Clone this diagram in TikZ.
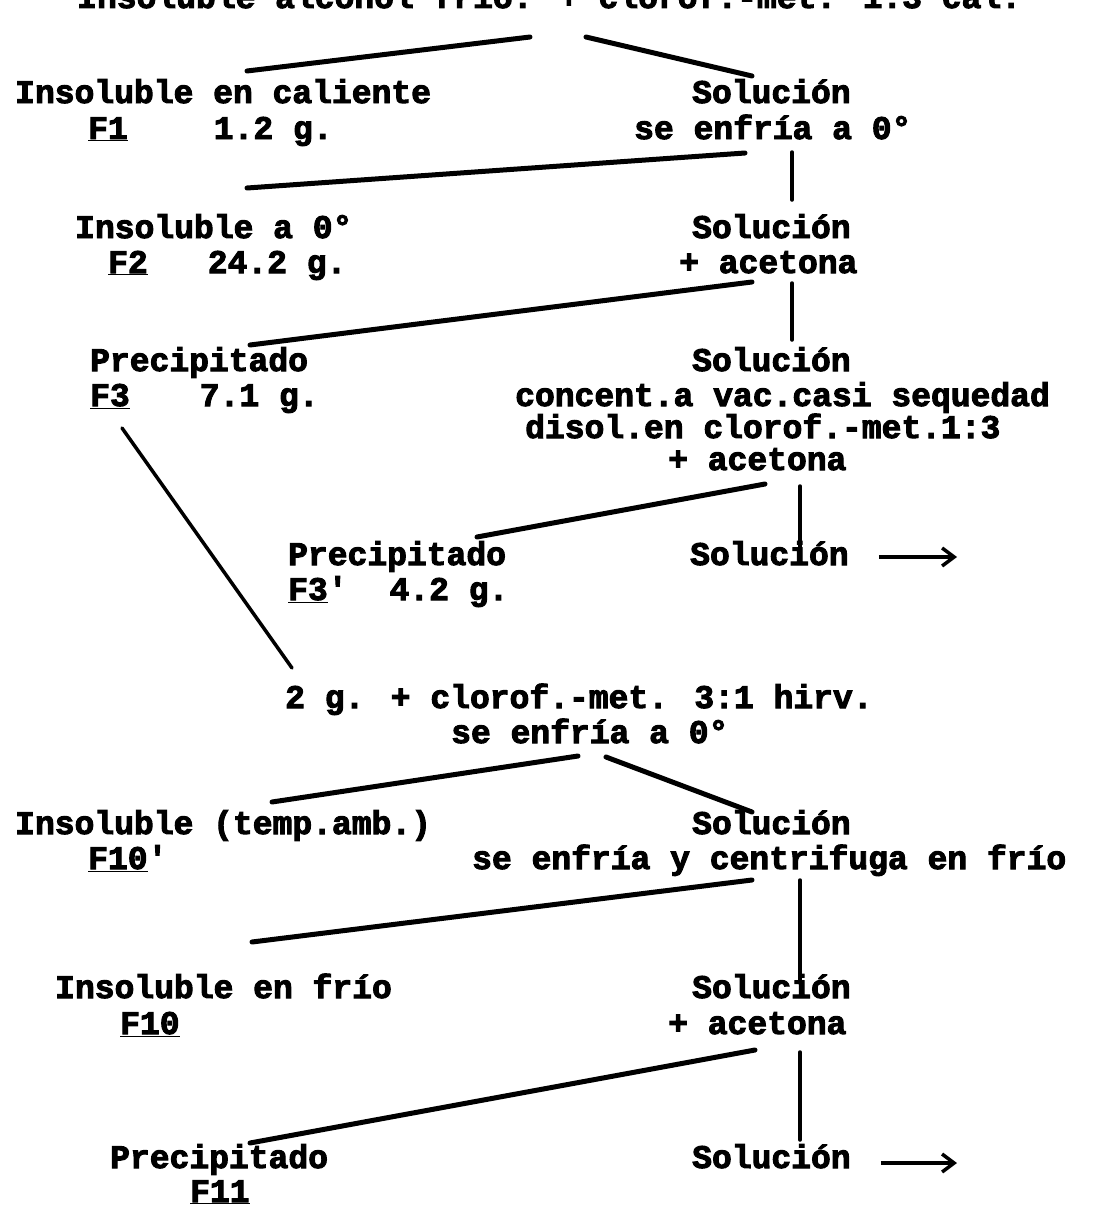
\documentclass[tikz,border=0pt]{standalone}
\usepackage{fontspec}
\newfontfamily\tw{Liberation Mono}[BoldFeatures={FakeBold=3}]
\usetikzlibrary{calc,arrows.meta}
\begin{document}
\begin{tikzpicture}[x=1pt,y=-1pt,
  t/.style={font=\tw\bfseries\fontsize{33}{36}\selectfont, inner sep=0pt, anchor=base west},
  ln/.style={line width=5pt, line cap=round},
  vl/.style={line width=3.5pt, line cap=round},
  arr/.style={line width=3.5pt, -{Straight Barb[length=12pt,width=18pt,line width=3.5pt]}}]
\useasboundingbox (0,0) rectangle (1096,1218);
\fill[white] (0,0) rectangle (1096,1218);
\clip (0,0) rectangle (1096,1218);
% texts
\node[t] (top) at (77,8) {Insoluble alcohol frío. + clorof.-met. 1:3 cal.};
\node[t] (b1) at (15,103) {Insoluble en caliente};
\node[t] (b1f) at (88,139) {\underline{F1}\hspace{86pt}1.2 g.};
\node[t] (b2) at (692,103) {Solución};
\node[t] (b2b) at (634,139) {se enfría a 0°};
\node[t] (c1) at (75,238) {Insoluble a 0°};
\node[t] (c1f) at (108,273) {\underline{F2}\hspace{60pt}24.2 g.};
\node[t] (c2) at (692,238) {Solución};
\node[t] (c2b) at (679,273) {+ acetona};
\node[t] (d1) at (90,371) {Precipitado};
\node[t] (d1f) at (90,406) {\underline{F3}\hspace{70pt}7.1 g.};
\node[t] (d2) at (692,371) {Solución};
\node[t] (d2b) at (515,406) {concent.a vac.casi sequedad};
\node[t] (d2c) at (525,438) {disol.en clorof.-met.1:3};
\node[t] (d2d) at (668,470) {+ acetona};
\node[t] (e1) at (288,565) {Precipitado};
\node[t] (e1f) at (288,600) {\underline{F3}'\hspace{42pt}4.2 g.};
\node[t] (e2) at (690,565) {Solución};
\node[t] (f1) at (285,708) {2 g. + clorof.-met. 3:1 hirv.};
\node[t] (f1b) at (451,743) {se enfría a 0°};
\node[t] (g1) at (15,834) {Insoluble (temp.amb.)};
\node[t] (g1f) at (88,869) {\underline{F10}'};
\node[t] (g2) at (692,834) {Solución};
\node[t] (g2b) at (472,869) {se enfría y centrifuga en frío};
\node[t] (h1) at (55,998) {Insoluble en frío};
\node[t] (h1f) at (120,1034) {\underline{F10}};
\node[t] (h2) at (692,998) {Solución};
\node[t] (h2b) at (668,1034) {+ acetona};
\node[t] (i1) at (110,1168) {Precipitado};
\node[t] (i1f) at (190,1202) {\underline{F11}};
\node[t] (i2) at (692,1168) {Solución};
\coordinate (e2end) at (957,557);
\coordinate (i2end) at (957,1163);
% connectors
\draw[ln] ($(top.base west)+(453,29)$) -- ($(b1.base west)+(232,-32)$);
\draw[ln] ($(top.base west)+(509,29)$) -- ($(b2.base west)+(60,-27)$);
\draw[ln] ($(b2b.base west)+(111,14)$) -- ($(c1.base west)+(172,-50)$);
\draw[vl] ($(b2b.base west)+(158,13)$) -- ($(c2.base west)+(100,-38)$);
\draw[ln] ($(c2b.base west)+(73,9)$) -- ($(d1.base west)+(160,-26)$);
\draw[vl] ($(c2b.base west)+(113,10)$) -- ($(d2.base west)+(100,-31)$);
\draw[ln] ($(d2d.base west)+(97,14)$) -- ($(e1.base west)+(189,-28)$);
\draw[vl] ($(d2d.base west)+(132,16)$) -- ($(e2.base west)+(110,-17)$);
\draw[vl] ($(d1f.base west)+(32,22)$) -- ($(f1.base west)+(7,-40)$);
\draw[ln] ($(f1b.base west)+(127,13)$) -- ($(g1.base west)+(257,-32)$);
\draw[ln] ($(f1b.base west)+(155,14)$) -- ($(g2.base west)+(60,-22)$);
\draw[ln] ($(g2b.base west)+(280,11)$) -- ($(h1.base west)+(197,-56)$);
\draw[vl] ($(g2b.base west)+(328,11)$) -- ($(h2.base west)+(108,-15)$);
\draw[ln] ($(h2b.base west)+(87,16)$) -- ($(i1.base west)+(140,-25)$);
\draw[vl] ($(h2b.base west)+(132,18)$) -- ($(i2.base west)+(108,-28)$);
\draw[arr] ($(e2.base east)+(30,-8)$) -- (e2end);
\draw[arr] ($(i2.base east)+(30,-5)$) -- (i2end);
\end{tikzpicture}
\end{document}
